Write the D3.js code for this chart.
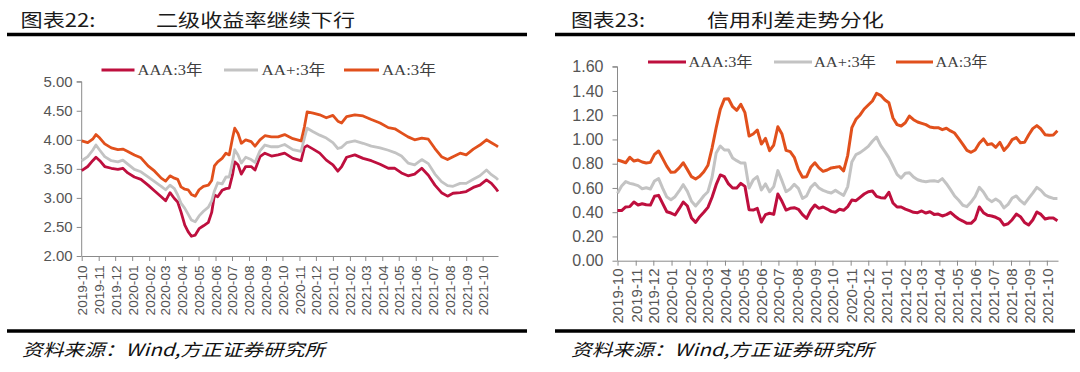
<!DOCTYPE html>
<html><head><meta charset="utf-8">
<script src="https://cdn.jsdelivr.net/npm/d3@7"></script>
<style>body{margin:0;background:#fff;overflow:hidden}</style>
</head><body>
<svg id="c" width="1080" height="372"></svg>
<script>
// ---------- DATA ----------
const monthLabels = ["2019-10","2019-11","2019-12","2020-01","2020-02","2020-03","2020-04","2020-05","2020-06","2020-07","2020-08","2020-09","2020-10","2020-11","2020-12","2021-01","2021-02","2021-03","2021-04","2021-05","2021-06","2021-07","2021-08","2021-09","2021-10"];
const seriesNames = ["AAA:3年","AA+:3年","AA:3年"];
const leftYTicks = [2.0,2.5,3.0,3.5,4.0,4.5,5.0];
const rightYTicks = [0,0.2,0.4,0.6,0.8,1.0,1.2,1.4,1.6];

const leftDates = ["2019-10-01","2019-10-12","2019-10-21","2019-10-27","2019-11-03","2019-11-12","2019-11-24","2019-12-06","2019-12-15","2019-12-24","2020-01-05","2020-01-17","2020-01-30","2020-02-11","2020-02-23","2020-03-02","2020-03-10","2020-03-18","2020-03-24","2020-03-30","2020-04-06","2020-04-12","2020-04-18","2020-04-25","2020-05-02","2020-05-10","2020-05-19","2020-05-25","2020-05-30","2020-06-05","2020-06-13","2020-06-20","2020-06-26","2020-07-02","2020-07-06","2020-07-12","2020-07-18","2020-07-26","2020-08-05","2020-08-12","2020-08-21","2020-08-30","2020-09-11","2020-09-23","2020-10-05","2020-10-20","2020-11-04","2020-11-10","2020-11-15","2020-11-26","2020-12-08","2020-12-20","2021-01-01","2021-01-10","2021-01-17","2021-01-26","2021-02-10","2021-02-25","2021-03-12","2021-03-28","2021-04-12","2021-04-24","2021-05-06","2021-05-18","2021-05-30","2021-06-12","2021-06-24","2021-07-06","2021-07-18","2021-07-29","2021-08-08","2021-08-21","2021-09-01","2021-09-14","2021-09-26","2021-10-08","2021-10-17","2021-10-26","2021-10-29"];
const leftAAA = [3.47,3.54,3.64,3.70,3.64,3.54,3.51,3.49,3.51,3.43,3.36,3.32,3.22,3.12,3.02,2.95,3.09,2.99,2.93,2.76,2.53,2.42,2.34,2.36,2.47,2.52,2.58,2.75,3.05,3.02,3.13,3.16,3.17,3.40,3.62,3.57,3.41,3.54,3.54,3.48,3.71,3.77,3.72,3.74,3.77,3.68,3.64,3.87,3.90,3.84,3.77,3.65,3.57,3.46,3.54,3.70,3.74,3.68,3.64,3.58,3.51,3.51,3.43,3.38,3.41,3.51,3.39,3.22,3.09,3.03,3.08,3.09,3.11,3.18,3.22,3.31,3.25,3.15,3.11];
const leftAAp = [3.64,3.71,3.82,3.91,3.82,3.71,3.64,3.62,3.65,3.58,3.49,3.45,3.36,3.28,3.20,3.14,3.22,3.16,3.05,2.91,2.82,2.72,2.62,2.59,2.69,2.77,2.84,2.95,3.12,3.26,3.24,3.36,3.36,3.62,3.83,3.74,3.60,3.70,3.66,3.61,3.81,3.91,3.88,3.88,3.92,3.83,3.80,4.03,4.20,4.14,4.08,4.03,3.95,3.85,3.87,3.95,3.98,3.94,3.89,3.86,3.82,3.78,3.72,3.60,3.57,3.66,3.59,3.41,3.28,3.21,3.20,3.25,3.25,3.32,3.38,3.48,3.40,3.34,3.31];
const leftAA = [3.98,3.95,4.01,4.09,4.03,3.93,3.86,3.83,3.84,3.80,3.74,3.69,3.55,3.46,3.34,3.29,3.38,3.34,3.32,3.19,3.15,3.14,3.06,3.03,3.14,3.20,3.22,3.30,3.55,3.62,3.68,3.77,3.74,4.03,4.20,4.11,3.94,4.00,3.97,3.89,4.00,4.07,4.05,4.05,4.09,4.02,3.98,4.22,4.48,4.46,4.43,4.38,4.42,4.32,4.29,4.40,4.43,4.41,4.35,4.29,4.21,4.19,4.12,4.05,4.00,4.03,4.01,3.85,3.71,3.66,3.71,3.77,3.74,3.84,3.91,4.00,3.95,3.90,3.88];

const rightDates = ["2019-10-01","2019-10-08","2019-10-15","2019-10-22","2019-10-29","2019-11-05","2019-11-12","2019-11-19","2019-11-26","2019-12-03","2019-12-10","2019-12-17","2019-12-24","2019-12-31","2020-01-07","2020-01-14","2020-01-21","2020-01-28","2020-02-04","2020-02-11","2020-02-18","2020-02-25","2020-03-03","2020-03-10","2020-03-17","2020-03-24","2020-03-31","2020-04-07","2020-04-14","2020-04-21","2020-04-28","2020-05-05","2020-05-12","2020-05-19","2020-05-26","2020-06-02","2020-06-09","2020-06-16","2020-06-23","2020-06-30","2020-07-07","2020-07-14","2020-07-21","2020-07-28","2020-08-04","2020-08-11","2020-08-18","2020-08-25","2020-09-01","2020-09-08","2020-09-15","2020-09-22","2020-09-29","2020-10-06","2020-10-13","2020-10-20","2020-10-27","2020-11-03","2020-11-10","2020-11-17","2020-11-24","2020-12-01","2020-12-08","2020-12-15","2020-12-22","2020-12-29","2021-01-05","2021-01-12","2021-01-19","2021-01-26","2021-02-02","2021-02-09","2021-02-16","2021-02-23","2021-03-02","2021-03-09","2021-03-16","2021-03-23","2021-03-30","2021-04-06","2021-04-13","2021-04-20","2021-04-27","2021-05-04","2021-05-11","2021-05-18","2021-05-25","2021-06-01","2021-06-08","2021-06-15","2021-06-22","2021-06-29","2021-07-06","2021-07-13","2021-07-20","2021-07-27","2021-08-03","2021-08-10","2021-08-17","2021-08-24","2021-08-31","2021-09-07","2021-09-14","2021-09-21","2021-09-28","2021-10-05","2021-10-12","2021-10-19"];
const rightAAA = [0.413,0.413,0.443,0.446,0.484,0.459,0.470,0.462,0.459,0.531,0.539,0.470,0.404,0.393,0.377,0.429,0.484,0.451,0.352,0.316,0.363,0.399,0.440,0.523,0.627,0.707,0.693,0.633,0.600,0.600,0.638,0.613,0.421,0.418,0.432,0.319,0.380,0.391,0.382,0.550,0.490,0.418,0.432,0.437,0.424,0.380,0.349,0.416,0.459,0.432,0.443,0.426,0.407,0.400,0.424,0.416,0.446,0.501,0.495,0.523,0.550,0.569,0.575,0.531,0.520,0.517,0.564,0.476,0.443,0.443,0.426,0.413,0.399,0.396,0.410,0.393,0.404,0.382,0.385,0.369,0.380,0.399,0.369,0.344,0.327,0.308,0.308,0.341,0.443,0.396,0.374,0.369,0.358,0.341,0.294,0.305,0.338,0.385,0.363,0.316,0.294,0.336,0.402,0.382,0.344,0.352,0.352,0.330];
const rightAAp = [0.556,0.616,0.652,0.638,0.630,0.619,0.594,0.602,0.591,0.657,0.677,0.597,0.525,0.503,0.528,0.575,0.627,0.572,0.490,0.451,0.492,0.536,0.569,0.688,0.888,0.946,0.913,0.913,0.847,0.825,0.806,0.806,0.600,0.666,0.693,0.583,0.633,0.569,0.611,0.743,0.660,0.569,0.591,0.630,0.597,0.514,0.534,0.605,0.638,0.600,0.580,0.567,0.558,0.580,0.558,0.539,0.611,0.814,0.875,0.891,0.916,0.943,0.985,1.020,0.951,0.902,0.850,0.781,0.712,0.682,0.721,0.726,0.690,0.668,0.657,0.652,0.657,0.660,0.652,0.677,0.635,0.586,0.534,0.498,0.457,0.446,0.484,0.531,0.605,0.567,0.512,0.487,0.509,0.487,0.435,0.465,0.517,0.534,0.495,0.468,0.514,0.558,0.605,0.580,0.542,0.525,0.514,0.514];
const rightAA = [0.830,0.820,0.808,0.853,0.822,0.830,0.814,0.806,0.811,0.877,0.905,0.842,0.778,0.729,0.732,0.765,0.808,0.751,0.693,0.674,0.696,0.734,0.787,0.929,1.097,1.248,1.334,1.336,1.270,1.240,1.290,1.221,1.028,1.045,1.078,0.962,1.009,0.907,0.954,1.105,1.045,0.910,0.899,0.853,0.751,0.688,0.693,0.770,0.808,0.765,0.737,0.748,0.765,0.770,0.776,0.740,0.869,1.097,1.166,1.202,1.251,1.284,1.317,1.380,1.364,1.328,1.303,1.177,1.122,1.111,1.138,1.193,1.163,1.144,1.133,1.122,1.103,1.097,1.097,1.081,1.092,1.070,1.053,1.006,0.960,0.910,0.894,0.913,0.968,1.004,0.957,0.965,0.935,0.976,0.910,0.946,0.998,1.015,0.973,0.976,1.037,1.089,1.114,1.086,1.039,1.034,1.037,1.072];

// ---------- STYLE ----------
const colors = ["#be0f3e", "#c3c3c3", "#e1501c"];
const parse = d3.timeParse("%Y-%m-%d");
const parseM = d3.timeParse("%Y-%m");
const svg = d3.select("#c");
const CJK = "'Noto Sans CJK SC','Noto Sans CJK JP',sans-serif";
const SERIF = "'Liberation Serif','Noto Sans CJK SC',serif";
const SANS = "Arial,'Liberation Sans',sans-serif";

function fitText(g, x, y, txt, opts) {
  const t = g.append("text").attr("x", x).attr("y", y).text(txt)
    .attr("font-family", opts.family).attr("font-size", opts.size)
    .attr("fill", opts.fill || "#222").attr("dominant-baseline", "central");
  if (opts.style) t.attr("font-style", opts.style);
  if (opts.len) t.attr("textLength", opts.len).attr("lengthAdjust", "spacingAndGlyphs");
  return t;
}

function panel(cfg) {
  const g = svg.append("g");
  fitText(g, cfg.t1x, 19, cfg.t1, {family: CJK, size: 18, len: cfg.t1w, fill: "#1a1a1a"});
  fitText(g, cfg.t2x, 19, cfg.t2, {family: CJK, size: 18, len: cfg.t2w, fill: "#1a1a1a"});
  g.append("line").attr("x1", cfg.bx0).attr("x2", cfg.bx1).attr("y1", 34.5).attr("y2", 34.5)
    .attr("stroke", "#000").attr("stroke-width", 3.5);
  g.append("line").attr("x1", cfg.bx0).attr("x2", cfg.bx1).attr("y1", 331).attr("y2", 331)
    .attr("stroke", "#000").attr("stroke-width", 3.5);
  fitText(g, cfg.bx0 + cfg.srcDx, 348, "资料来源：Wind,方正证券研究所",
    {family: CJK, size: 17, style: "italic", len: 303, fill: "#111"});

  const x = d3.scaleTime().domain([parse("2019-10-01"), parse(cfg.end)]).range([cfg.x0, cfg.x1]);
  const y = d3.scaleLinear().domain(cfg.yDomain).range([cfg.yBot, cfg.yTop]);

  const ya = g.append("g").attr("transform", `translate(${cfg.x0},0)`)
    .call(d3.axisLeft(y).tickValues(cfg.yTicks).tickFormat(d3.format(".2f")).tickSize(5).tickPadding(cfg.yPad));
  ya.select(".domain").attr("stroke", "#8a8a8a").attr("d", `M-5,${cfg.yTop}H0V${cfg.yBot}`);
  ya.selectAll(".tick line").attr("stroke", "#8a8a8a");
  ya.selectAll(".tick text").attr("fill", "#555").attr("font-family", SANS).attr("font-size", cfg.yFont);

  const tickDates = monthLabels.map(parseM);
  const xa = g.append("g").attr("transform", `translate(0,${cfg.yBot})`)
    .call(d3.axisBottom(x).tickValues(tickDates).tickFormat(d3.timeFormat("%Y-%m")).tickSize(5).tickSizeOuter(0));
  xa.select(".domain").attr("stroke", "#8a8a8a");
  xa.selectAll(".tick line").attr("stroke", "#8a8a8a");
  xa.selectAll(".tick text").attr("fill", "#555").attr("font-family", SANS).attr("font-size", cfg.xFont)
    .attr("text-anchor", "end").attr("transform", "rotate(-90)")
    .attr("x", -(cfg.labelTop - cfg.yBot)).attr("y", 0).attr("dy", "0.36em");

  const dates = cfg.dates.map(parse);
  const line = d3.line().x((d, i) => x(dates[i])).y(d => y(d));
  cfg.series.forEach((s, i) => {
    g.append("path").datum(s).attr("d", line).attr("fill", "none")
      .attr("stroke", colors[i]).attr("stroke-width", cfg.lw).attr("stroke-linejoin", "round");
  });

  cfg.legend.forEach((L, i) => {
    g.append("line").attr("x1", L[0]).attr("x2", L[1]).attr("y1", cfg.ly).attr("y2", cfg.ly)
      .attr("stroke", colors[i]).attr("stroke-width", 3.2);
    fitText(g, L[2], cfg.ly, seriesNames[i], {family: SERIF, size: 15, len: L[3], fill: "#404040"});
  });
}

panel({
  t1: "图表22:", t1x: 20.5, t1w: 75, t2: "二级收益率继续下行", t2x: 156, t2w: 199,
  bx0: 7, bx1: 527, srcDx: 15,
  x0: 81.7, x1: 498, yTop: 81.7, yBot: 256, yDomain: [2, 5], yTicks: leftYTicks,
  end: "2021-10-29", yFont: 15, yPad: 4, xFont: 13.6, labelTop: 265.5, lw: 2.8,
  dates: leftDates, series: [leftAAA, leftAAp, leftAA],
  ly: 70, legend: [[101.5, 134.5, 137.5, 65], [224, 258, 261.5, 64], [344, 379, 382, 54]]
});
panel({
  t1: "图表23:", t1x: 571, t1w: 74, t2: "信用利差走势分化", t2x: 707, t2w: 177,
  bx0: 555, bx1: 1075, srcDx: 16,
  x0: 617.5, x1: 1058, yTop: 66.7, yBot: 260.7, yDomain: [0, 1.6], yTicks: rightYTicks,
  end: "2021-10-20", yFont: 16, yPad: 9, xFont: 15, labelTop: 268.5, lw: 3,
  dates: rightDates, series: [rightAAA, rightAAp, rightAA],
  ly: 62, legend: [[648, 686, 688.5, 64], [774, 812, 814, 62], [896, 933, 935.5, 52]]
});
</script>
</body></html>
